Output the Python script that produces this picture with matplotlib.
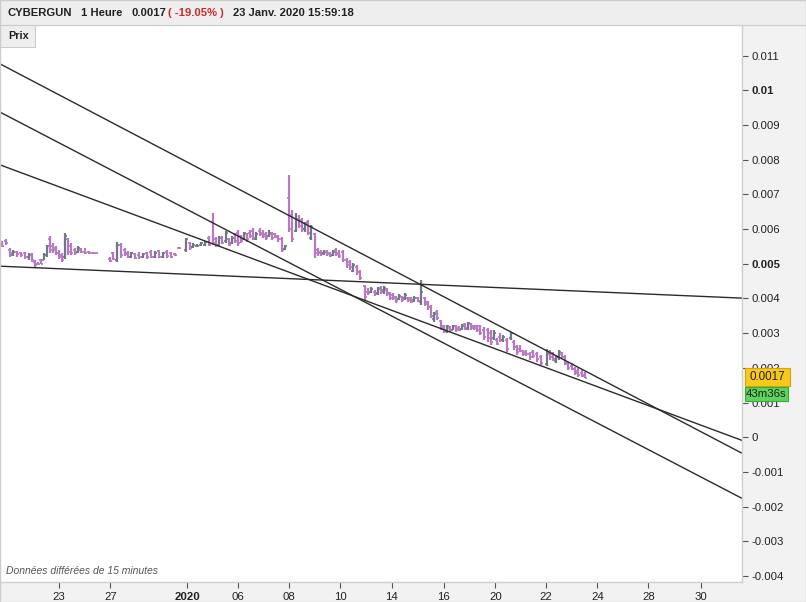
import matplotlib
matplotlib.use("Agg")
import matplotlib.pyplot as plt
from matplotlib.patches import Rectangle

plt.rcParams['font.family'] = ['Liberation Sans', 'DejaVu Sans']

# ---- data (time position, open, high, low, close) ----
t = [2, 6, 10, 13, 17, 21, 25, 29, 32, 35, 38, 41, 44, 47, 50, 53, 56, 59, 62, 65, 68, 71, 75, 78, 81, 85, 89, 93, 96,
     110, 113, 117, 121, 125, 128, 131, 135, 139, 143, 147, 151, 155, 159, 163, 167, 171, 175, 179,
     186, 190, 193, 197, 201, 205, 209, 213, 216, 219, 222, 226, 229, 232, 235, 238, 241, 244, 247, 250, 253, 256,
     260, 263, 266, 269, 272, 275, 278, 282, 285, 289, 292, 296, 299, 302, 305, 308, 311, 315, 318, 321, 324, 327,
     330, 333, 336, 339, 343, 347, 350, 353, 357, 360, 365, 368, 371, 375, 378, 381, 384, 387, 390, 393, 396, 399,
     402, 405, 408, 411, 414, 418, 421, 425, 428, 431, 434, 437, 441, 444, 447, 450, 453, 456, 459, 462, 465, 468,
     471, 474, 477, 480, 484, 488, 491, 494, 497, 500, 503, 507, 511, 514, 517, 520, 523, 526, 530, 533, 537, 541,
     547, 550, 553, 556, 559, 562, 565, 568, 572, 575, 578, 582, 585]
o = [5.60, 5.65, 5.40, 5.25, 5.35, 5.30, 5.30, 5.20, 5.25, 5.05, 5.00, 5.10, 5.12, 5.25, 5.70, 5.50, 5.45, 5.30, 5.25, 5.20, 5.70, 5.50, 5.40, 5.35, 5.40, 5.35, 5.33, 5.32, 5.31,
     5.15, 5.30, 5.10, 5.55, 5.40, 5.30, 5.20, 5.28, 5.25, 5.20, 5.30, 5.35, 5.20, 5.38, 5.20, 5.35, 5.30, 5.28, 5.45,
     5.40, 5.60, 5.48, 5.50, 5.55, 5.55, 5.75, 6.20, 5.70, 5.55, 5.75, 5.65, 5.70, 5.60, 5.85, 5.90, 5.80, 5.70, 5.85, 5.90, 5.95, 5.70,
     5.95, 5.90, 5.85, 5.80, 5.85, 5.85, 5.80, 5.70, 5.42, 6.90, 6.40, 5.95, 6.30, 6.25, 6.00, 6.20, 5.75, 5.85, 5.40, 5.35, 5.30, 5.35,
     5.30, 5.25, 5.40, 5.30, 5.35, 5.10, 5.05, 4.80, 4.90, 4.75, 4.35, 4.20, 4.20, 4.20, 4.15, 4.30, 4.25, 4.25, 4.15, 4.10, 4.00, 3.98,
     4.05, 4.00, 4.00, 4.00, 3.95, 4.00, 3.90, 4.00, 3.90, 3.75, 3.40, 3.60, 3.35, 3.20, 3.05, 3.15, 3.10, 3.20, 3.15, 3.12, 3.25, 3.12,
     3.25, 3.20, 3.20, 3.20, 3.10, 3.10, 3.00, 2.85, 2.80, 2.90, 2.80, 2.80, 2.85, 2.75, 2.60, 2.55, 2.50, 2.45, 2.40, 2.45, 2.40, 2.30,
     2.10, 2.45, 2.40, 2.20, 2.30, 2.40, 2.30, 2.10, 2.05, 1.98, 1.90, 1.85, 1.80]
h = [5.65, 5.70, 5.45, 5.40, 5.38, 5.35, 5.35, 5.30, 5.30, 5.10, 5.05, 5.15, 5.30, 5.55, 5.80, 5.60, 5.50, 5.40, 5.30, 5.90, 5.75, 5.60, 5.45, 5.50, 5.45, 5.45, 5.38, 5.35, 5.32,
     5.19, 5.34, 5.63, 5.60, 5.45, 5.37, 5.34, 5.31, 5.34, 5.31, 5.34, 5.40, 5.37, 5.40, 5.34, 5.40, 5.34, 5.31, 5.48,
     5.74, 5.63, 5.60, 5.57, 5.63, 5.66, 5.80, 6.46, 5.77, 5.80, 5.80, 5.94, 5.74, 5.80, 5.89, 5.97, 5.83, 5.91, 5.89, 5.97, 6.03, 5.91,
     6.03, 5.97, 5.91, 5.97, 5.91, 5.89, 5.83, 5.77, 5.54, 7.56, 6.55, 6.46, 6.40, 6.32, 6.20, 6.26, 6.12, 5.89, 5.45, 5.40, 5.40, 5.40,
     5.34, 5.40, 5.45, 5.40, 5.40, 5.17, 5.11, 5.02, 4.96, 4.82, 4.39, 4.30, 4.33, 4.25, 4.33, 4.36, 4.36, 4.30, 4.19, 4.16, 4.07, 4.13,
     4.07, 4.16, 4.05, 4.05, 4.07, 4.05, 4.53, 4.04, 3.93, 3.81, 3.61, 3.67, 3.38, 3.24, 3.24, 3.21, 3.24, 3.24, 3.21, 3.27, 3.30, 3.33,
     3.30, 3.24, 3.24, 3.24, 3.18, 3.15, 3.09, 3.09, 2.86, 3.00, 2.95, 2.86, 3.03, 2.80, 2.66, 2.66, 2.52, 2.52, 2.46, 2.52, 2.46, 2.37,
     2.55, 2.52, 2.46, 2.37, 2.52, 2.46, 2.37, 2.17, 2.15, 2.03, 2.00, 1.94, 1.88]
l = [5.47, 5.55, 5.20, 5.22, 5.20, 5.20, 5.15, 5.12, 5.05, 4.90, 4.95, 4.98, 5.10, 5.20, 5.30, 5.30, 5.25, 5.15, 5.05, 5.15, 5.25, 5.25, 5.25, 5.30, 5.30, 5.28, 5.28, 5.28, 5.28,
     5.05, 5.11, 5.05, 5.17, 5.22, 5.17, 5.17, 5.14, 5.14, 5.17, 5.14, 5.17, 5.17, 5.17, 5.17, 5.17, 5.17, 5.22, 5.42,
     5.34, 5.40, 5.45, 5.48, 5.51, 5.51, 5.51, 5.54, 5.48, 5.51, 5.57, 5.60, 5.51, 5.57, 5.60, 5.51, 5.60, 5.68, 5.63, 5.74, 5.68, 5.68,
     5.80, 5.74, 5.68, 5.77, 5.68, 5.74, 5.63, 5.34, 5.40, 5.91, 5.63, 5.91, 6.03, 5.91, 5.91, 5.83, 5.68, 5.17, 5.22, 5.22, 5.25, 5.22,
     5.20, 5.22, 5.22, 5.17, 5.05, 4.88, 4.82, 4.76, 4.68, 4.53, 3.96, 4.10, 4.16, 4.07, 4.10, 4.13, 4.13, 4.07, 3.96, 3.96, 3.87, 3.96,
     3.90, 3.96, 3.90, 3.87, 3.90, 3.90, 3.81, 3.78, 3.67, 3.44, 3.32, 3.38, 3.09, 3.01, 3.01, 3.04, 3.09, 3.04, 3.06, 3.09, 3.09, 3.09,
     3.09, 3.09, 3.04, 2.95, 2.80, 2.75, 2.66, 2.80, 2.66, 2.75, 2.75, 2.46, 2.80, 2.52, 2.37, 2.46, 2.34, 2.34, 2.23, 2.29, 2.17, 2.08,
     2.05, 2.23, 2.20, 2.14, 2.23, 2.28, 2.08, 1.94, 1.94, 1.80, 1.74, 1.74, 1.70]
c = [5.50, 5.60, 5.30, 5.35, 5.28, 5.25, 5.20, 5.25, 5.10, 4.95, 4.98, 5.00, 5.25, 5.50, 5.40, 5.40, 5.30, 5.20, 5.10, 5.80, 5.35, 5.30, 5.30, 5.45, 5.35, 5.30, 5.30, 5.30, 5.30,
     5.08, 5.15, 5.55, 5.25, 5.28, 5.20, 5.30, 5.18, 5.20, 5.28, 5.20, 5.20, 5.30, 5.20, 5.30, 5.22, 5.20, 5.24, 5.45,
     5.70, 5.45, 5.55, 5.52, 5.60, 5.62, 5.55, 5.60, 5.55, 5.75, 5.60, 5.90, 5.55, 5.75, 5.65, 5.60, 5.65, 5.88, 5.70, 5.80, 5.75, 5.85,
     5.85, 5.80, 5.75, 5.90, 5.75, 5.78, 5.70, 5.40, 5.50, 6.00, 5.70, 6.30, 6.10, 6.00, 6.15, 5.90, 6.05, 5.30, 5.30, 5.28, 5.35, 5.28,
     5.22, 5.35, 5.28, 5.22, 5.10, 4.95, 4.90, 4.95, 4.75, 4.60, 4.05, 4.15, 4.28, 4.12, 4.28, 4.20, 4.30, 4.12, 4.00, 4.05, 3.92, 4.08,
     3.95, 4.10, 3.95, 3.90, 4.00, 3.92, 4.20, 3.85, 3.75, 3.50, 3.55, 3.45, 3.15, 3.05, 3.20, 3.08, 3.20, 3.10, 3.10, 3.22, 3.15, 3.28,
     3.15, 3.15, 3.10, 3.00, 2.90, 2.85, 2.75, 3.00, 2.70, 2.80, 2.90, 2.55, 3.00, 2.60, 2.45, 2.50, 2.40, 2.40, 2.30, 2.35, 2.25, 2.15,
     2.40, 2.30, 2.25, 2.30, 2.45, 2.30, 2.15, 2.00, 1.98, 1.85, 1.80, 1.78, 1.70]

# trend lines: value at left edge and right edge of view (in thousandths)
trend_left = [10.76, 9.37, 7.85, 4.93]
trend_right = [-0.46, -1.76, -0.09, 4.01]

x_ticks = [58.7, 110.3, 187.3, 238.3, 289.3, 340.3, 391.7, 443.7, 495.3, 546, 597.3, 648.3, 700.7]
x_labels = ['23', '27', '2020', '06', '08', '10', '14', '16', '20', '22', '24', '28', '30']
y_ticks = [0.011, 0.010, 0.009, 0.008, 0.007, 0.006, 0.005, 0.004, 0.003, 0.002, 0.001, 0.0,
           -0.001, -0.002, -0.003, -0.004]
y_labels = ['0.011', '0.01', '0.009', '0.008', '0.007', '0.006', '0.005', '0.004', '0.003', '0.002',
            '0.001', '0', '-0.001', '-0.002', '-0.003', '-0.004']
bold_labels = {'0.01', '0.005', '2020'}

last_price = 0.0017
last_label = '0.0017'
timer_label = '43m36s'
x_left, x_right = 0, 742

W, H = 806, 602
fig = plt.figure(figsize=(W / 100, H / 100), dpi=100)
fig.patch.set_facecolor('#f2f2f2')

ax = fig.add_axes([0, (H - 582) / H, 742 / W, (582 - 25) / H])
ax.set_facecolor('white')
ax.set_xlim(x_left, x_right)
ax.set_ylim(-0.00417, 0.01188)

up_col = '#6f7885'
dn_col = '#b878c2'
scale = 1e-3
for ti, oi, hi, li, ci in zip(t, o, h, l, c):
    col = up_col if ci > oi else dn_col
    ax.vlines(ti, li * scale, hi * scale, color=col, lw=1.6)
    ax.hlines(oi * scale, ti - 1.6, ti, color=col, lw=1.2)
    ax.hlines(ci * scale, ti, ti + 1.6, color=col, lw=1.2)

for a, b in zip(trend_left, trend_right):
    ax.plot([x_left, x_right], [a * scale, b * scale], color='#2b2b2b', lw=1.0, solid_capstyle='butt')

ax.yaxis.tick_right()
ax.set_yticks(y_ticks)
ax.set_yticklabels(y_labels)
ax.set_xticks(x_ticks)
ax.set_xticklabels(x_labels)
ax.tick_params(axis='y', direction='out', length=4, width=0.8, color='#555555', pad=3,
               labelsize=8.2, labelcolor='#222222')
ax.tick_params(axis='x', direction='out', length=4, width=0.8, color='#555555', pad=3,
               labelsize=8.2, labelcolor='#222222')
for lab in ax.get_yticklabels() + ax.get_xticklabels():
    if lab.get_text() in bold_labels:
        lab.set_fontweight('bold')
for s in ['top', 'left']:
    ax.spines[s].set_visible(False)
for s in ['right', 'bottom']:
    ax.spines[s].set_color('#d0d0d0')
    ax.spines[s].set_linewidth(1.0)

# last price tags (positioned from the data value of the last price)
fig.canvas.draw()
y_pix = ax.transData.transform((0, last_price))[1]   # pixels from bottom
yc = y_pix + 1
fig.patches.append(Rectangle((745 / W, (yc - 9) / H), 45 / W, 18 / H, transform=fig.transFigure,
                             fc='#f7c81e', ec='#d9a400', lw=0.8, zorder=6))
fig.text(767.5 / W, yc / H, last_label, fontsize=8.4, color='#222222', ha='center', va='center', zorder=7)
yg = yc - 9 - 1 - 7
fig.patches.append(Rectangle((745 / W, (yg - 7) / H), 43 / W, 14 / H, transform=fig.transFigure,
                             fc='#5fd35f', ec='#3aa83a', lw=0.8, zorder=6))
fig.text(766.5 / W, yg / H, timer_label, fontsize=8.2, color='#222222', ha='center', va='center', zorder=7)

ax.text(6, -0.00385, 'Données différées de 15 minutes', fontsize=7.5, style='italic',
        color='#555555', ha='left', va='center')

# header bar
fig.patches.append(Rectangle((0, (H - 24) / H), 1, 24 / H, transform=fig.transFigure,
                             fc='#eeeeee', ec='none', zorder=0))
fig.lines.append(plt.Line2D([0, 1], [(H - 24.5) / H] * 2, transform=fig.transFigure,
                            color='#cfcfcf', lw=1))
hy = (H - 13) / H
hdr = [(8, 'CYBERGUN', '#222222'), (81, '1 Heure', '#222222'), (132, '0.0017', '#222222'),
       (168, '( -19.05% )', '#cc2a2a'), (233, '23 Janv. 2020 15:59:18', '#222222')]
for xp, txt, col in hdr:
    fig.text(xp / W, hy, txt, fontsize=8.1, fontweight='bold', color=col, ha='left', va='center')

# "Prix" box
fig.patches.append(Rectangle((0, (H - 47) / H), 35 / W, 22 / H, transform=fig.transFigure,
                             fc='#eeeeee', ec='#cccccc', lw=0.8, zorder=3))
fig.text(8 / W, (H - 36) / H, 'Prix', fontsize=7.8, fontweight='bold', color='#222222',
         ha='left', va='center', zorder=4)

# outer border
fig.patches.append(Rectangle((0.0006, 0.0008), 0.9988, 0.9984, transform=fig.transFigure,
                             fc='none', ec='#cccccc', lw=1, zorder=5))

fig.savefig('out.png', dpi=100)
